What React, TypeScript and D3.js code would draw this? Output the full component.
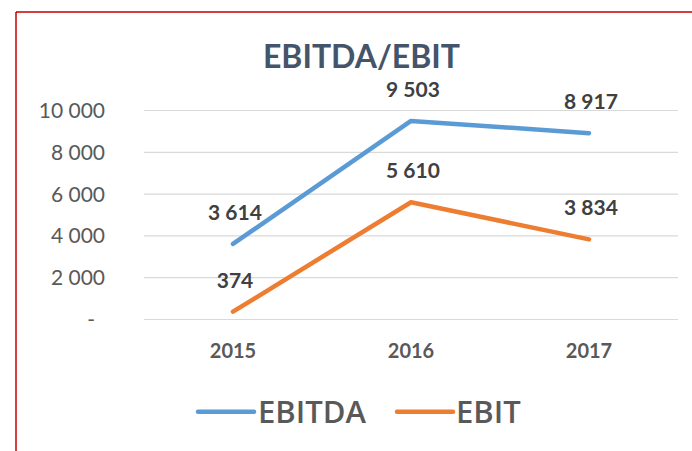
import React from "react";
import * as d3 from "d3";

const years = ["2015", "2016", "2017"];
const ebitda = [3614, 9503, 8917];
const ebit = [374, 5610, 3834];
const yTicks = [0, 2000, 4000, 6000, 8000, 10000];

const seriesList = [
  { name: "EBITDA", values: ebitda, color: "#5B9BD5" },
  { name: "EBIT", values: ebit, color: "#ED7D31" },
];

const W = 692;
const H = 451;
const FONT = "Lato, 'Open Sans', sans-serif";
const LEGEND_FONT = "'Open Sans', Lato, sans-serif";

const fmt = (v: number) => (v === 0 ? "-" : d3.format(",")(v).replace(/,/g, " "));

export default function App() {
  const x = d3.scaleBand<string>().domain(years).range([144, 678]);
  const y = d3.scaleLinear().domain([0, 10000]).range([319.5, 110.5]);
  const cx = (c: string) => (x(c) ?? 0) + x.bandwidth() / 2;

  const line = d3
    .line<number>()
    .x((_, i) => cx(years[i]))
    .y((d) => y(d));

  const legendItems = [
    { x1: 198, x2: 254, tx: 258 },
    { x1: 397, x2: 453, tx: 456 },
  ];

  return (
    <div style={{ position: "absolute", left: 0, top: 0 }}>
      <svg width={W} height={H} style={{ display: "block", background: "#fff" }}>
        {/* frame */}
        <line x1={16} y1={12} x2={W} y2={12} stroke="#C00000" strokeWidth={1.5} />
        <line x1={16} y1={12} x2={16} y2={H} stroke="#C00000" strokeWidth={1.5} />

        <text
          x={361.5}
          y={67.5}
          textAnchor="middle"
          fontFamily={FONT}
          fontWeight="bold"
          fontSize={32}
          fill="#44546A"
        >
          EBITDA/EBIT
        </text>

        {/* grid + y labels */}
        {yTicks.map((t) => (
          <g key={t}>
            <line x1={144} x2={678} y1={y(t)} y2={y(t)} stroke="#D9D9D9" strokeWidth={1.2} />
            <text
              x={t === 0 ? 95 : 105}
              y={y(t) + 7.5}
              textAnchor="end"
              fontFamily={FONT}
              fontSize={21}
              fill="#595959"
            >
              {fmt(t)}
            </text>
          </g>
        ))}

        {/* x labels */}
        {years.map((c) => (
          <text
            key={c}
            x={cx(c)}
            y={358}
            textAnchor="middle"
            fontFamily={FONT}
            fontWeight="bold"
            fontSize={20}
            fill="#595959"
          >
            {c}
          </text>
        ))}

        {/* series */}
        {seriesList.map((s) => (
          <g key={s.name}>
            <path
              d={line(s.values) ?? ""}
              fill="none"
              stroke={s.color}
              strokeWidth={4.5}
              strokeLinecap="round"
              strokeLinejoin="round"
            />
            {s.values.map((v, i) => (
              <text
                key={i}
                x={cx(years[i]) + 2}
                y={y(v) - 24}
                textAnchor="middle"
                fontFamily={FONT}
                fontWeight="bold"
                fontSize={21}
                fill="#404040"
              >
                {fmt(v)}
              </text>
            ))}
          </g>
        ))}

        {/* legend */}
        {seriesList.map((s, i) => (
          <g key={s.name}>
            <line
              x1={legendItems[i].x1}
              x2={legendItems[i].x2}
              y1={411.7}
              y2={411.7}
              stroke={s.color}
              strokeWidth={4.5}
              strokeLinecap="round"
            />
            <text
              x={legendItems[i].tx}
              y={422.5}
              fontFamily={LEGEND_FONT}
              fontWeight={600}
              fontSize={31}
              fill="#595959"
            >
              {s.name}
            </text>
          </g>
        ))}
      </svg>
    </div>
  );
}
